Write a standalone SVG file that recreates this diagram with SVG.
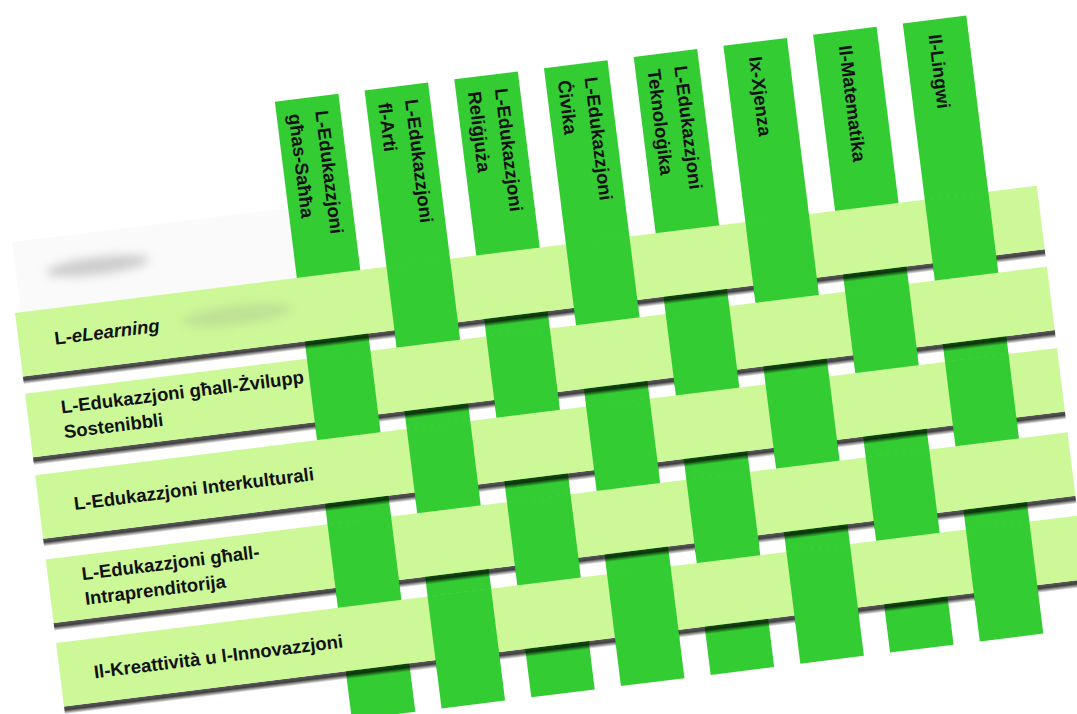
<svg xmlns="http://www.w3.org/2000/svg" width="1077" height="714" viewBox="0 0 1077 714">
<defs>
<style>
.col{fill:#33CC33}
.row{fill:#CCF898}
.sh{fill:url(#shadow)}
.lbl{font-family:"Liberation Sans",Arial,sans-serif;font-weight:bold;font-size:18.5px;fill:#111}
</style>
<linearGradient id="shadow" x1="0" y1="0" x2="0" y2="1">
<stop offset="0" stop-color="#000" stop-opacity="0.65"/>
<stop offset="0.45" stop-color="#000" stop-opacity="0.75"/>
<stop offset="1" stop-color="#000" stop-opacity="0"/>
</linearGradient>
<filter id="blur" x="-50%" y="-100%" width="200%" height="300%"><feGaussianBlur stdDeviation="5"/></filter>
</defs>
<rect width="1077" height="714" fill="#ffffff"/>
<g transform="translate(275,102.7) rotate(-7.1)">
<g id="ghost">
<rect x="-278" y="106" width="278" height="72" fill="#fafafb"/>
<ellipse cx="-196" cy="140" rx="52" ry="9" fill="#b0b0b0" opacity="0.6" filter="url(#blur)"/>
</g>
<g id="col-1"><rect class="col" x="0" y="-1" width="64" height="622.7"/>
<text class="lbl" transform="translate(39,13.5) rotate(90)">L-Edukazzjoni</text>
<text class="lbl" transform="translate(12,13.5) rotate(90)">għas-Saħħa</text></g>
<g id="col-2"><rect class="col" x="90.4" y="-1" width="64" height="622.7"/>
<text class="lbl" transform="translate(129.4,13.5) rotate(90)">L-Edukazzjoni</text>
<text class="lbl" transform="translate(102.4,13.5) rotate(90)">fl-Arti</text></g>
<g id="col-3"><rect class="col" x="180.8" y="-1" width="64" height="622.7"/>
<text class="lbl" transform="translate(219.8,13.5) rotate(90)">L-Edukazzjoni</text>
<text class="lbl" transform="translate(192.8,13.5) rotate(90)">Reliġjuża</text></g>
<g id="col-4"><rect class="col" x="271.2" y="-1" width="64" height="622.7"/>
<text class="lbl" transform="translate(310.2,13.5) rotate(90)">L-Edukazzjoni</text>
<text class="lbl" transform="translate(283.2,13.5) rotate(90)">Ċivika</text></g>
<g id="col-5"><rect class="col" x="361.6" y="-1" width="64" height="622.7"/>
<text class="lbl" transform="translate(400.6,13.5) rotate(90)">L-Edukazzjoni</text>
<text class="lbl" transform="translate(373.6,13.5) rotate(90)">Teknoloġika</text></g>
<g id="col-6"><rect class="col" x="452" y="-1" width="64" height="622.7"/>
<text class="lbl" transform="translate(476,13.5) rotate(90)">Ix-Xjenza</text></g>
<g id="col-7"><rect class="col" x="542.4" y="-1" width="64" height="622.7"/>
<text class="lbl" transform="translate(566.4,13.5) rotate(90)">Il-Matematika</text></g>
<g id="col-8"><rect class="col" x="632.8" y="-1" width="64" height="622.7"/>
<text class="lbl" transform="translate(656.8,13.5) rotate(90)">Il-Lingwi</text></g>

<g id="row-1">
<rect class="sh" x="-284" y="240.5" width="1029.7" height="8"/>
<rect class="row" x="-284" y="176.5" width="1029.7" height="64"/>
<ellipse cx="-64" cy="206" rx="55" ry="10" fill="#8a8a8a" opacity="0.2" filter="url(#blur)"/>
<text class="lbl" x="-248" y="213">L-<tspan font-style="italic">eLearning</tspan></text>
</g>
<g id="row-2">
<rect class="sh" x="-284" y="322" width="1029.7" height="8"/>
<rect class="row" x="-284" y="258" width="1029.7" height="64"/>
<text class="lbl" x="-250" y="282">L-Edukazzjoni għall-Żvilupp</text>
<text class="lbl" x="-250" y="307">Sostenibbli</text>
</g>
<g id="row-3">
<rect class="sh" x="-284" y="404" width="1029.7" height="8"/>
<rect class="row" x="-284" y="340" width="1029.7" height="64"/>
<text class="lbl" x="-249" y="379.5">L-Edukazzjoni Interkulturali</text>
</g>
<g id="row-4">
<rect class="sh" x="-284" y="489" width="1029.7" height="8"/>
<rect class="row" x="-284" y="425" width="1029.7" height="64"/>
<text class="lbl" x="-250" y="450">L-Edukazzjoni għall-</text>
<text class="lbl" x="-250" y="475">Intraprenditorija</text>
</g>
<g id="row-5">
<rect class="sh" x="-284" y="573" width="1029.7" height="8"/>
<rect class="row" x="-284" y="509" width="1029.7" height="64"/>
<text class="lbl" x="-250" y="549">Il-Kreattività u l-Innovazzjoni</text>
</g>

<g id="crossings">
<rect class="col" x="90.4" y="176" width="64" height="73.5"/>
<rect class="col" x="271.2" y="176" width="64" height="73.5"/>
<rect class="col" x="452" y="176" width="64" height="73.5"/>
<rect class="col" x="632.8" y="176" width="64" height="73.5"/>
<rect class="col" x="0" y="257.5" width="64" height="73.5"/>
<rect class="col" x="180.8" y="257.5" width="64" height="73.5"/>
<rect class="col" x="361.6" y="257.5" width="64" height="73.5"/>
<rect class="col" x="542.4" y="257.5" width="64" height="73.5"/>
<rect class="col" x="90.4" y="339.5" width="64" height="73.5"/>
<rect class="col" x="271.2" y="339.5" width="64" height="73.5"/>
<rect class="col" x="452" y="339.5" width="64" height="73.5"/>
<rect class="col" x="632.8" y="339.5" width="64" height="73.5"/>
<rect class="col" x="0" y="424.5" width="64" height="73.5"/>
<rect class="col" x="180.8" y="424.5" width="64" height="73.5"/>
<rect class="col" x="361.6" y="424.5" width="64" height="73.5"/>
<rect class="col" x="542.4" y="424.5" width="64" height="73.5"/>
<rect class="col" x="90.4" y="508.5" width="64" height="73.5"/>
<rect class="col" x="271.2" y="508.5" width="64" height="73.5"/>
<rect class="col" x="452" y="508.5" width="64" height="73.5"/>
<rect class="col" x="632.8" y="508.5" width="64" height="73.5"/>
</g>
</g>
</svg>
